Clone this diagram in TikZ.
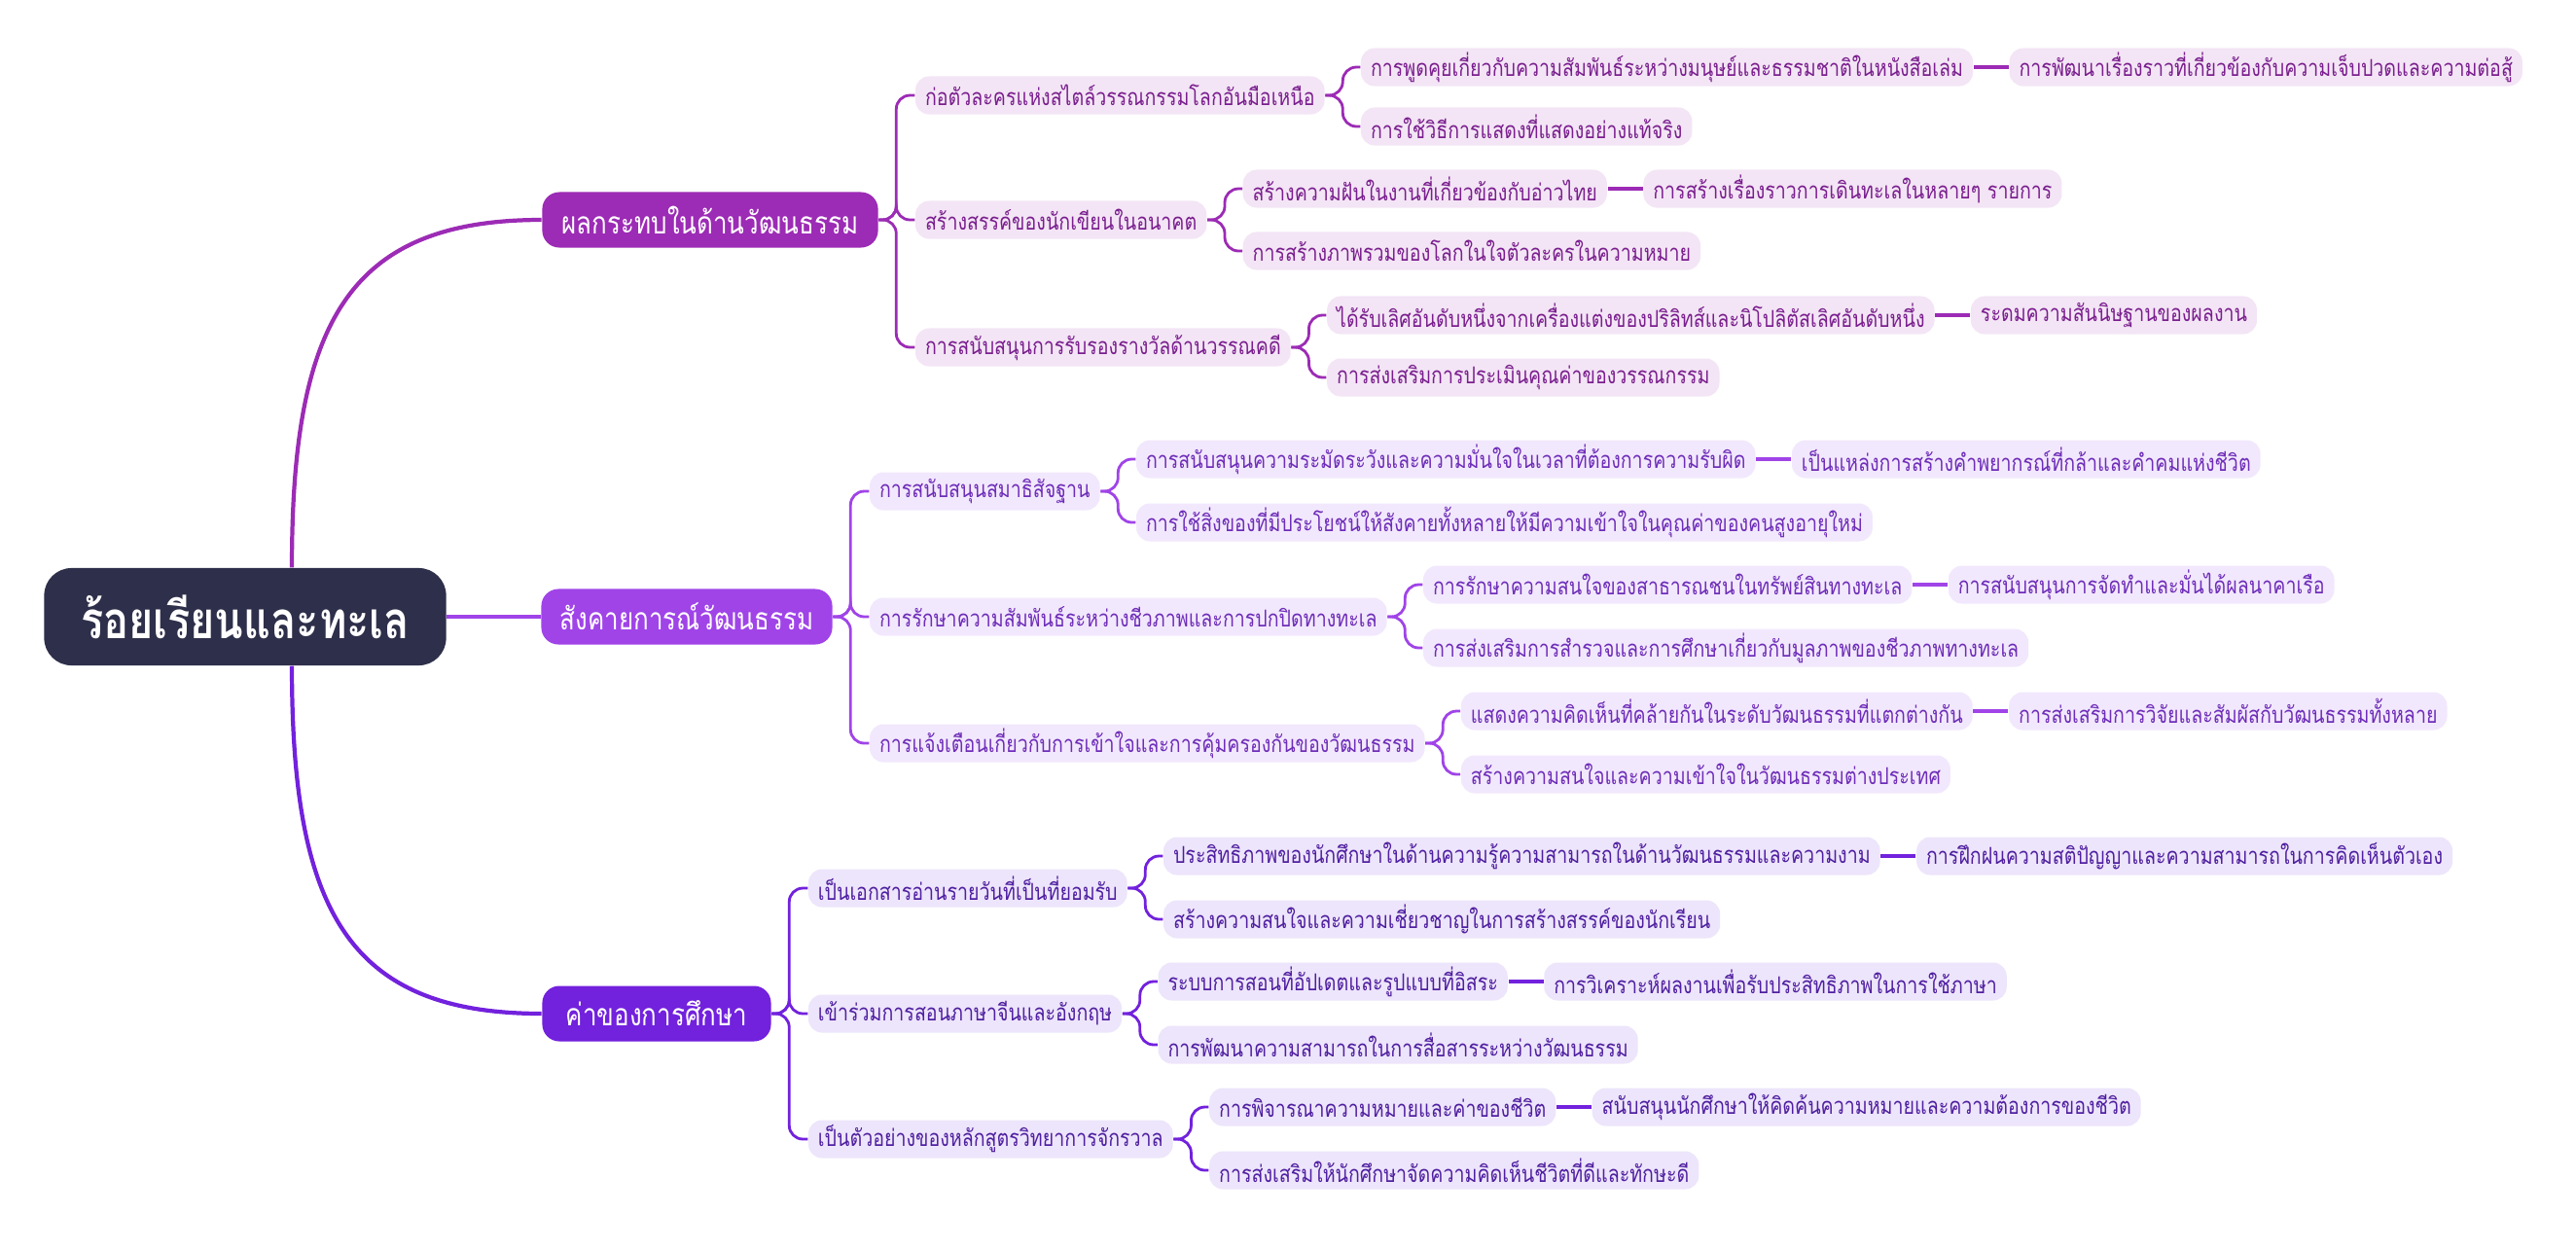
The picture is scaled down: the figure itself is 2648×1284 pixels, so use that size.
\documentclass[tikz,border=0pt]{standalone}
\usepackage{fontspec}
\newfontfamily\thaifont[Script=Thai,FakeStretch=0.82]{Loma}
\usetikzlibrary{positioning}

\definecolor{rootfill}{HTML}{2E2F4A}
\definecolor{grpA}{HTML}{9C2BB5}
\definecolor{grpB}{HTML}{A044E8}
\definecolor{grpC}{HTML}{7221DD}
\definecolor{fillA}{HTML}{F3E5F5}
\definecolor{fillB}{HTML}{F2E8FD}
\definecolor{fillC}{HTML}{EDE5FB}
\definecolor{textA}{HTML}{7A1E8E}
\definecolor{textB}{HTML}{6E2DB8}
\definecolor{textC}{HTML}{4F1FA0}

\tikzset{
  rootbox/.style={fill=rootfill, text=white, rounded corners=8pt, minimum width=4.13cm,
    minimum height=1cm, font=\thaifont\bfseries\fontsize{15}{18}\selectfont},
  topic/.style={rounded corners=5pt, text=white, minimum height=0.57cm,
    font=\thaifont\fontsize{9}{11}\selectfont},
  sub/.style={rounded corners=4pt, minimum height=0.39cm, inner xsep=0.1cm, inner ysep=0pt,
    font=\thaifont\fontsize{6.8}{8}\selectfont},
  subA/.style={sub, fill=fillA, text=textA},
  subB/.style={sub, fill=fillB, text=textB},
  subC/.style={sub, fill=fillC, text=textC},
  rootlink/.style={line width=1.2pt},
  link/.style={line width=0.8pt, rounded corners=4pt},
  leaflink/.style={line width=1.3pt}
}

\begin{document}
\begin{tikzpicture}[x=0.01cm, y=-0.01cm]
  \fill[white] (0,0) rectangle (2648,1284);
  \useasboundingbox (0,0) rectangle (2648,1284);

  \node[rootbox] (root) at (252,634) {ร้อยเรียนและทะเล};

  \node[topic, fill=grpA, minimum width=3.45cm] (a) at (730,226) {ผลกระทบในด้านวัฒนธรรม};
  \node[topic, fill=grpB, minimum width=2.99cm] (b) at (706,634) {สังคายการณ์วัฒนธรรม};
  \node[topic, fill=grpC, minimum width=2.35cm] (c) at (675,1042) {ค่าของการศึกษา};

  \draw[rootlink, grpA] ([xshift=0.48cm]root.north) .. controls +(0,-250) and +(-200,0) .. (a.west);
  \draw[rootlink, grpB] (root.east) -- (b.west);
  \draw[rootlink, grpC] ([xshift=0.48cm]root.south) .. controls +(0,250) and +(-200,0) .. (c.west);

  % ผลกระทบในด้านวัฒนธรรม
  \node[subA, anchor=west] (a1) at ([shift={(37,-128)}]a.east) {ก่อตัวละครแห่งสไตล์วรรณกรรมโลกอันมือเหนือ};
  \node[subA, anchor=west] (a2) at ([shift={(37,0)}]a.east) {สร้างสรรค์ของนักเขียนในอนาคต};
  \node[subA, anchor=west] (a3) at ([shift={(37,131)}]a.east) {การสนับสนุนการรับรองรางวัลด้านวรรณคดี};

  \node[subA, anchor=west] (a11) at ([shift={(36,-29)}]a1.east) {การพูดคุยเกี่ยวกับความสัมพันธ์ระหว่างมนุษย์และธรรมชาติในหนังสือเล่ม};
  \node[subA, anchor=west] (a12) at ([shift={(36,32)}]a1.east) {การใช้วิธีการแสดงที่แสดงอย่างแท้จริง};
  \node[subA, anchor=west] (a21) at ([shift={(36,-32)}]a2.east) {สร้างความฝันในงานที่เกี่ยวข้องกับอ่าวไทย};
  \node[subA, anchor=west] (a22) at ([shift={(36,32)}]a2.east) {การสร้างภาพรวมของโลกในใจตัวละครในความหมาย};
  \node[subA, anchor=west] (a31) at ([shift={(36,-33)}]a3.east) {ได้รับเลิศอันดับหนึ่งจากเครื่องแต่งของปริลิทส์และนิโปลิตัสเลิศอันดับหนึ่ง};
  \node[subA, anchor=west] (a32) at ([shift={(36,31)}]a3.east) {การส่งเสริมการประเมินคุณค่าของวรรณกรรม};

  \node[subA, right=0.36cm of a11] (a111) {การพัฒนาเรื่องราวที่เกี่ยวข้องกับความเจ็บปวดและความต่อสู้};
  \node[subA, right=0.36cm of a21] (a211) {การสร้างเรื่องราวการเดินทะเลในหลายๆ รายการ};
  \node[subA, right=0.36cm of a31] (a311) {ระดมความสันนิษฐานของผลงาน};

  % สังคายการณ์วัฒนธรรม
  \node[subB, anchor=west] (b1) at ([shift={(37,-129)}]b.east) {การสนับสนุนสมาธิสัจฐาน};
  \node[subB, anchor=west] (b2) at ([shift={(37,0)}]b.east) {การรักษาความสัมพันธ์ระหว่างชีวภาพและการปกปิดทางทะเล};
  \node[subB, anchor=west] (b3) at ([shift={(37,130)}]b.east) {การแจ้งเตือนเกี่ยวกับการเข้าใจและการคุ้มครองกันของวัฒนธรรม};

  \node[subB, anchor=west] (b11) at ([shift={(36,-33)}]b1.east) {การสนับสนุนความระมัดระวังและความมั่นใจในเวลาที่ต้องการความรับผิด};
  \node[subB, anchor=west] (b12) at ([shift={(36,32)}]b1.east) {การใช้สิ่งของที่มีประโยชน์ให้สังคายทั้งหลายให้มีความเข้าใจในคุณค่าของคนสูงอายุใหม่};
  \node[subB, anchor=west] (b21) at ([shift={(36,-33)}]b2.east) {การรักษาความสนใจของสาธารณชนในทรัพย์สินทางทะเล};
  \node[subB, anchor=west] (b22) at ([shift={(36,32)}]b2.east) {การส่งเสริมการสำรวจและการศึกษาเกี่ยวกับมูลภาพของชีวภาพทางทะเล};
  \node[subB, anchor=west] (b31) at ([shift={(36,-33)}]b3.east) {แสดงความคิดเห็นที่คล้ายกันในระดับวัฒนธรรมที่แตกต่างกัน};
  \node[subB, anchor=west] (b32) at ([shift={(36,32)}]b3.east) {สร้างความสนใจและความเข้าใจในวัฒนธรรมต่างประเทศ};

  \node[subB, right=0.36cm of b11] (b111) {เป็นแหล่งการสร้างคำพยากรณ์ที่กล้าและคำคมแห่งชีวิต};
  \node[subB, right=0.36cm of b21] (b211) {การสนับสนุนการจัดทำและมั่นได้ผลนาคาเรือ};
  \node[subB, right=0.36cm of b31] (b311) {การส่งเสริมการวิจัยและสัมผัสกับวัฒนธรรมทั้งหลาย};

  % ค่าของการศึกษา
  \node[subC, anchor=west] (c1) at ([shift={(37,-129)}]c.east) {เป็นเอกสารอ่านรายวันที่เป็นที่ยอมรับ};
  \node[subC, anchor=west] (c2) at ([shift={(37,0)}]c.east) {เข้าร่วมการสอนภาษาจีนและอังกฤษ};
  \node[subC, anchor=west] (c3) at ([shift={(37,129)}]c.east) {เป็นตัวอย่างของหลักสูตรวิทยาการจักรวาล};

  \node[subC, anchor=west] (c11) at ([shift={(36,-33)}]c1.east) {ประสิทธิภาพของนักศึกษาในด้านความรู้ความสามารถในด้านวัฒนธรรมและความงาม};
  \node[subC, anchor=west] (c12) at ([shift={(36,32)}]c1.east) {สร้างความสนใจและความเชี่ยวชาญในการสร้างสรรค์ของนักเรียน};
  \node[subC, anchor=west] (c21) at ([shift={(36,-33)}]c2.east) {ระบบการสอนที่อัปเดตและรูปแบบที่อิสระ};
  \node[subC, anchor=west] (c22) at ([shift={(36,32)}]c2.east) {การพัฒนาความสามารถในการสื่อสารระหว่างวัฒนธรรม};
  \node[subC, anchor=west] (c31) at ([shift={(36,-33)}]c3.east) {การพิจารณาความหมายและค่าของชีวิต};
  \node[subC, anchor=west] (c32) at ([shift={(36,32)}]c3.east) {การส่งเสริมให้นักศึกษาจัดความคิดเห็นชีวิตที่ดีและทักษะดี};

  \node[subC, right=0.36cm of c11] (c111) {การฝึกฝนความสติปัญญาและความสามารถในการคิดเห็นตัวเอง};
  \node[subC, right=0.36cm of c21] (c211) {การวิเคราะห์ผลงานเพื่อรับประสิทธิภาพในการใช้ภาษา};
  \node[subC, right=0.36cm of c31] (c311) {สนับสนุนนักศึกษาให้คิดค้นความหมายและความต้องการของชีวิต};

  % brackets
  \foreach \g/\col in {a/grpA, b/grpB, c/grpC} {
    \foreach \k in {1,2,3} {
      \draw[link, \col] (\g.east) -- ++(18,0) |- (\g\k.west);
      \foreach \j in {1,2}
        \draw[link, \col] (\g\k.east) -- ++(18,0) |- (\g\k\j.west);
      \draw[leaflink, \col] (\g\k1) -- (\g\k11);
    }
  }
\end{tikzpicture}
\end{document}
